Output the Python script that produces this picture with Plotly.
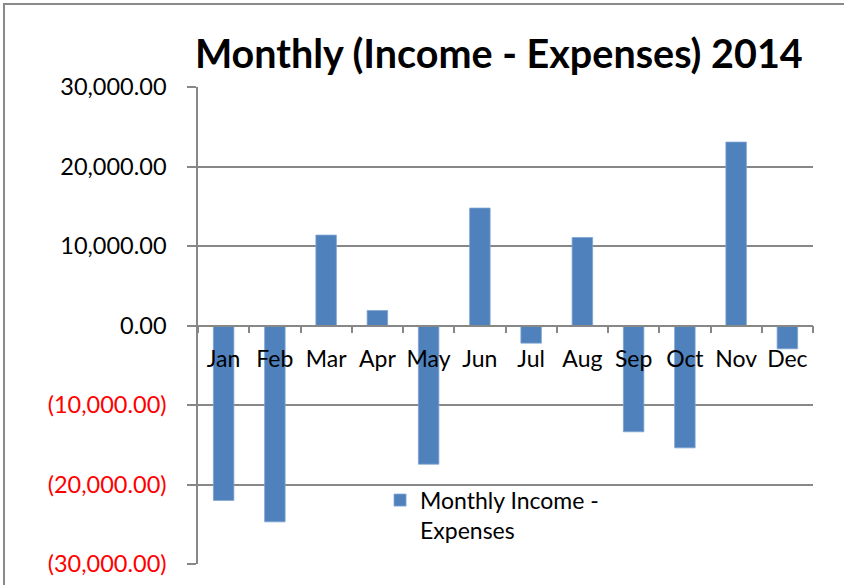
import plotly.graph_objects as go

months = ["Jan", "Feb", "Mar", "Apr", "May", "Jun", "Jul", "Aug", "Sep", "Oct", "Nov", "Dec"]
net_values = [-22000, -24700, 11370, 1890, -17440, 14770, -2220, 11070, -13370, -15390, 23070, -2930]
series_name = "Monthly Income -<br>Expenses"
y_ticks = [-30000, -20000, -10000, 0, 10000, 20000, 30000]
y_tick_labels = [
    '<span style="color:#ff0000">(30,000.00)</span>',
    '<span style="color:#ff0000">(20,000.00)</span>',
    '<span style="color:#ff0000">(10,000.00)</span>',
    "0.00",
    "10,000.00",
    "20,000.00",
    "30,000.00",
]
title_text = "<b>Monthly (Income - Expenses) 2014</b>"

FONT = "Lato, Calibri, 'Noto Sans', sans-serif"
GRID = "#878787"

fig = go.Figure()
fig.add_trace(go.Bar(
    x=months, y=net_values, name=series_name,
    marker=dict(color="#4F81BD", line=dict(color="#7FA3D0", width=0.8)),
    width=0.4, showlegend=True,
))

fig.update_layout(
    width=844, height=585,
    margin=dict(l=198, r=31, t=87, b=21, autoexpand=False),
    paper_bgcolor="white", plot_bgcolor="white",
    font=dict(family=FONT, size=24, color="black"),
    title=dict(text=title_text, x=0.591, xanchor="center", y=0.908, yanchor="middle",
               font=dict(family=FONT, size=39.5, color="black")),
    showlegend=True,
    legend=dict(x=0.296, y=0.179, xanchor="left", yanchor="top",
                bgcolor="rgba(0,0,0,0)", font=dict(size=23), valign="top",
                itemwidth=30, tracegroupgap=0),
)

fig.update_xaxes(
    type="category", anchor="free", position=0.5,
    showline=True, linecolor=GRID, linewidth=1.5,
    ticks="outside", tickson="boundaries", ticklen=7, tickcolor=GRID, tickwidth=1.5,
    showgrid=False, zeroline=False, tickangle=0, automargin=False,
    tickfont=dict(size=23), ticklabelstandoff=13,
    range=[-0.5, 11.5],
)
fig.update_yaxes(
    range=[-30000, 30000], tickvals=y_ticks, ticktext=y_tick_labels,
    showline=True, linecolor=GRID, linewidth=1.5,
    ticks="outside", ticklen=9, tickcolor=GRID, tickwidth=1.5,
    showgrid=True, gridcolor=GRID, gridwidth=1.5, automargin=False,
    zeroline=False, tickfont=dict(size=23.5), ticklabelstandoff=16,
)

# outer chart-area border (left and top visible)
fig.add_shape(type="rect", xref="paper", yref="paper",
              x0=(4 - 198) / 615, x1=1.2, y0=-0.2, y1=(564 - 4) / 477,
              line=dict(color="#8a8a8a", width=2), fillcolor="rgba(0,0,0,0)", layer="below")

fig.write_html("out.html", config={"displayModeBar": False},
               post_script="document.body.style.margin='0';")
